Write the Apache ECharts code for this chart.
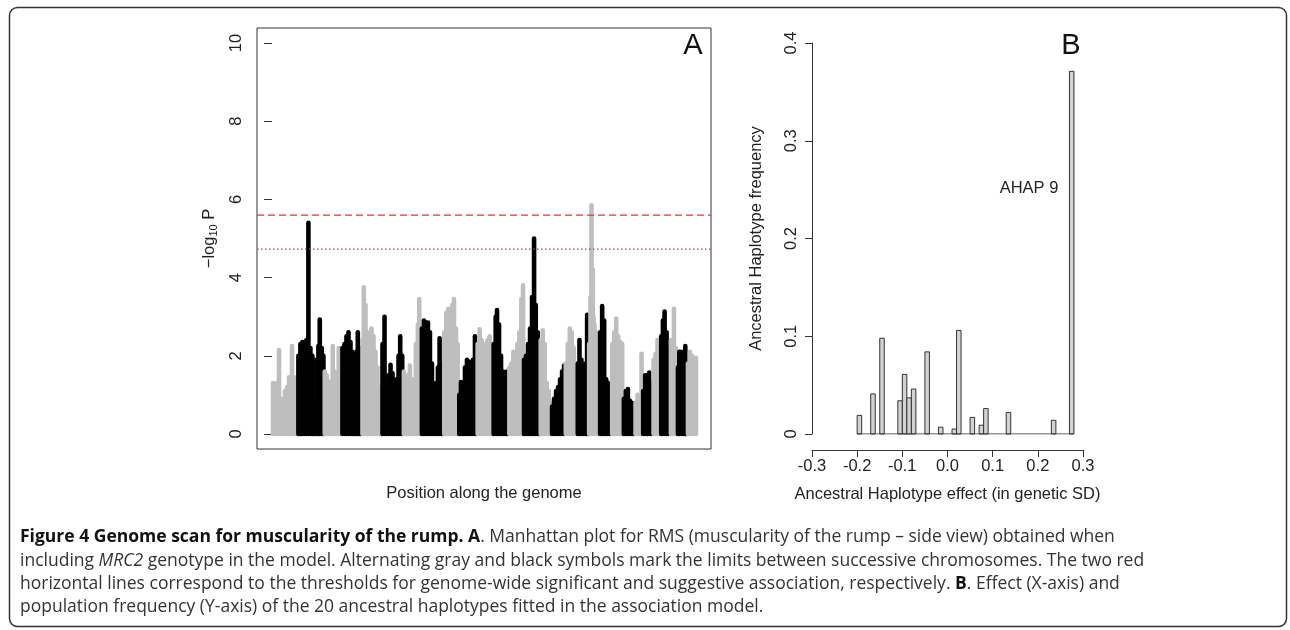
<!DOCTYPE html>
<html><head><meta charset="utf-8">
<script src="https://cdn.jsdelivr.net/npm/echarts@6/dist/echarts.min.js"></script>
<style>html,body{margin:0;padding:0;background:#fff}#c{width:1290px;height:630px}</style>
</head><body><div id="c"></div>
<script>
// ---------- Panel A: Manhattan plot (envelope of -log10 P per chromosome, position in Mb) ----------
const chrNames = ['1','2','3','4','5','6','7','8','9','10','11','12','13','14','15','16','17','18','19','20','21','22','23','24','25','26','27','28','29'];
const chrPos = [
  [6,18,30,42,54,66,78,90,102,110,120,132,144],
  [158,170,182,194,206,218,230,242,254,266,278,286,298,308],
  [316,328,340,352,364,376,388,400,412],
  [422,434,446,458,470,482,494,506,514,526,534],
  [542,550,560,572,584,596,608,620,632,644,654],
  [662,674,686,698,710,722,734,746,758,768,780],
  [790,802,814,826,838,850,862,874,882,890],
  [898,910,922,934,946,958,970,982,994,1004,1016,1024],
  [1032,1044,1056,1068,1080,1090,1102,1112],
  [1122,1132,1144,1156,1168,1180,1192,1204,1216,1224],
  [1232,1244,1256,1268,1280,1292,1304,1316],
  [1328,1340,1348,1360,1372,1384,1396,1408,1414],
  [1422,1434,1446,1458,1470,1482,1494,1504],
  [1510,1522,1534,1546,1558,1570,1580,1592,1604],
  [1610,1622,1634,1646,1658,1668],
  [1678,1690,1702,1714,1726,1738,1750],
  [1760,1772,1784,1796,1808,1820],
  [1832,1842,1854,1866,1878,1888,1894],
  [1900,1908,1914,1922,1926,1932,1944,1956],
  [1966,1978,1990,2002,2014,2026],
  [2038,2050,2062,2074,2086,2098],
  [2108,2120,2132,2144,2156,2168],
  [2178,2190,2202,2214],
  [2224,2236,2248,2260,2272],
  [2286,2298,2310,2322],
  [2332,2342,2352,2364,2376],
  [2390,2402,2408,2420],
  [2432,2440,2452,2464,2476,2484],
  [2492,2504,2516,2528,2540]
];
const chrLogP = [
  [1.3,1.25,1.3,2.15,0.9,0.75,1.1,1.2,1.45,1.35,2.25,1.45,1.4],
  [2.0,2.3,2.35,2.35,2.4,5.4,2.2,2.0,0.75,1.9,2.25,2.93,2.2,2.0],
  [1.6,1.5,1.35,1.25,2.25,1.6,1.45,2.2,2.0],
  [2.2,2.3,2.5,2.6,2.35,2.1,2.0,2.1,2.6,2.2,1.9],
  [2.4,3.75,3.3,2.6,2.5,2.7,2.5,2.1,1.7,1.2,0.9],
  [2.3,3.0,1.3,1.5,1.77,1.55,1.3,1.4,2.0,2.5,2.0],
  [1.6,1.2,1.5,1.75,1.0,1.4,2.3,2.8,3.45,2.7],
  [2.7,2.9,2.85,2.85,2.6,1.8,0.9,1.3,1.7,2.45,1.8,1.4],
  [2.6,3.1,3.2,3.05,3.3,3.45,2.7,2.3],
  [1.0,1.33,1.2,1.7,1.9,1.85,1.6,1.9,2.5,1.8],
  [2.3,2.68,2.4,2.05,2.3,2.4,2.5,2.2],
  [2.3,3.0,3.17,2.8,2.0,1.6,1.55,1.6,1.2],
  [1.7,1.8,2.1,2.0,2.3,2.6,3.45,3.8],
  [1.9,2.0,2.3,2.7,3.5,5.0,3.3,2.6,2.1],
  [2.4,2.65,2.3,1.3,1.1,0.8],
  [0.7,0.9,1.1,1.2,1.4,1.6,1.75],
  [1.8,2.3,2.7,2.6,2.2,1.8],
  [1.8,2.4,1.9,1.7,1.8,3.05,2.0],
  [2.3,3.5,5.85,4.2,3.0,2.8,2.6,2.5],
  [2.6,3.27,2.9,1.4,1.3,1.0],
  [2.3,2.6,2.95,2.5,2.35,2.3],
  [0.9,1.1,1.15,0.85,0.8,0.6],
  [0.8,1.0,0.9,2.05],
  [1.1,1.5,1.5,1.57,1.3],
  [1.9,2.05,2.4,2.0],
  [2.5,2.9,3.13,2.6,2.2],
  [2.4,2.2,3.2,2.2],
  [1.7,2.1,2.1,1.8,2.25,1.6],
  [1.8,2.1,2.0,1.9,1.95]
];
const genomeRange = [-90, 2630];
const thresholds = [5.6, 4.73]; // significant, suggestive
const yTicksA = [0, 10, 2];

// ---------- Panel B: ancestral haplotype effects ----------
const binStart = [-0.20,-0.17,-0.15,-0.11,-0.10,-0.09,-0.08,-0.05,-0.02,0.01,0.02,0.05,0.07,0.08,0.13,0.23,0.27];
const binFreq  = [0.019,0.041,0.098,0.034,0.061,0.037,0.046,0.084,0.007,0.005,0.106,0.017,0.009,0.026,0.022,0.014,0.371];
const binWidth = 0.01;
const binRange = [-0.20, 0.28];
const xTicksB = [-0.3, 0.3, 0.1];
const yTicksB = [0, 0.4, 0.1];

// ---------- build ----------
const manhattan = [];
chrPos.forEach((ps, ci) => ps.forEach((p, j) => manhattan.push([p, chrLogP[ci][j], ci])));
const bars = binStart.map((s, i) => [s, binFreq[i]]);

const FF = "'Liberation Sans', Arial, sans-serif";
const TXT = '#222';
const AX = '#333';
const FS = 16.5;
const CF = 'Open Sans';
const CS = 17.5;
const RED = '#ff2424';

const chart = echarts.init(document.getElementById('c'), null, {renderer: 'canvas'});
chart.setOption({
  animation: false,
  backgroundColor: '#fff',
  grid: [
    {left: 257, right: 579, top: 28, bottom: 181, show: true, borderColor: AX, borderWidth: 1, backgroundColor: 'transparent', outerBoundsMode: 'none'},
    {left: 257, right: 579, top: 43, bottom: 196, outerBoundsMode: 'none'},
    {left: 812, right: 207, top: 43, bottom: 196, outerBoundsMode: 'none'}
  ],
  xAxis: [
    {gridIndex: 0, type: 'value', min: 0, max: 1, axisLine: {show: false}, axisTick: {show: false}, axisLabel: {show: false}, splitLine: {show: false},
     name: 'Position along the genome', nameLocation: 'middle', nameGap: 36,
     nameTextStyle: {fontFamily: FF, fontSize: FS, color: TXT}},
    {gridIndex: 1, type: 'value', min: genomeRange[0], max: genomeRange[1], show: false, splitLine: {show: false}},
    {gridIndex: 2, type: 'value', min: xTicksB[0], max: xTicksB[1], interval: xTicksB[2], offset: 16,
     axisLine: {show: true, onZero: false, lineStyle: {color: AX, width: 1}},
     axisTick: {show: true, length: 7, lineStyle: {color: AX}},
     axisLabel: {formatter: v => v.toFixed(1), margin: 8, fontFamily: FF, fontSize: FS, color: TXT},
     splitLine: {show: false},
     name: 'Ancestral Haplotype effect (in genetic SD)', nameLocation: 'middle', nameGap: 36,
     nameTextStyle: {fontFamily: FF, fontSize: FS, color: TXT}}
  ],
  yAxis: [
    {gridIndex: 0, type: 'value', min: 0, max: 1, show: false, splitLine: {show: false}},
    {gridIndex: 1, type: 'value', min: yTicksA[0], max: yTicksA[1], interval: yTicksA[2],
     axisLine: {show: false}, axisTick: {show: true, length: 8, lineStyle: {color: AX}},
     axisLabel: {rotate: 90, margin: 12, fontFamily: FF, fontSize: FS, color: TXT},
     splitLine: {show: false},
     name: '{n|\u2212log}{s|10}{n| P}', nameLocation: 'middle', nameRotate: 90, nameGap: 38,
     nameTextStyle: {fontFamily: FF, fontSize: FS, color: TXT,
       rich: {n: {fontFamily: FF, fontSize: FS, color: TXT, lineHeight: 20},
              s: {fontFamily: FF, fontSize: 11, color: TXT, lineHeight: 11, verticalAlign: 'bottom'}}}},
    {gridIndex: 2, type: 'value', min: yTicksB[0], max: yTicksB[1], interval: yTicksB[2],
     axisLine: {show: true, onZero: false, lineStyle: {color: AX, width: 1}},
     axisTick: {show: true, length: 7, lineStyle: {color: AX}},
     axisLabel: {rotate: 90, margin: 12, fontFamily: FF, fontSize: FS, color: TXT},
     splitLine: {show: false},
     name: 'Ancestral Haplotype frequency', nameLocation: 'middle', nameRotate: 90, nameGap: 47,
     nameTextStyle: {fontFamily: FF, fontSize: FS, color: TXT}}
  ],
  series: [
    {type: 'custom', xAxisIndex: 1, yAxisIndex: 1, data: manhattan, encode: {x: 0, y: 1}, clip: false, silent: true, z: 2,
     renderItem: (params, api) => {
       const x = api.value(0), y = api.value(1), c = api.value(2);
       const p0 = api.coord([x, 0]), p1 = api.coord([x, y]);
       return {type: 'line', shape: {x1: p0[0], y1: p0[1], x2: p1[0], y2: p1[1]},
               style: {stroke: (c % 2) ? '#000000' : '#bebebe', lineWidth: 4.6, lineCap: 'round'}};
     }},
    {type: 'line', xAxisIndex: 1, yAxisIndex: 1, silent: true, symbol: 'none', z: 3,
     data: [[genomeRange[0], thresholds[0]], [genomeRange[1], thresholds[0]]],
     itemStyle: {color: RED}, lineStyle: {color: RED, width: 1.2, type: [7, 4]}},
    {type: 'line', xAxisIndex: 1, yAxisIndex: 1, silent: true, symbol: 'none', z: 3,
     data: [[genomeRange[0], thresholds[1]], [genomeRange[1], thresholds[1]]],
     itemStyle: {color: RED}, lineStyle: {color: RED, width: 1.3, type: [1.5, 2.5]}},
    {type: 'line', xAxisIndex: 2, yAxisIndex: 2, data: [[binRange[0], 0], [binRange[1], 0]], symbol: 'none', silent: true,
     lineStyle: {color: AX, width: 1}},
    {type: 'custom', xAxisIndex: 2, yAxisIndex: 2, data: bars, encode: {x: 0, y: 1}, silent: true,
     renderItem: (params, api) => {
       const a = api.coord([api.value(0), api.value(1)]);
       const b = api.coord([api.value(0) + binWidth, 0]);
       return {type: 'rect', shape: {x: a[0], y: a[1], width: b[0] - a[0], height: b[1] - a[1]},
               style: {fill: '#d3d3d3', stroke: AX, lineWidth: 1}};
     }}
  ],
  graphic: [
    {type: 'rect', silent: true, shape: {x: 9.5, y: 7.5, width: 1277, height: 619, r: 8},
     style: {fill: 'none', stroke: '#333', lineWidth: 1.5}},
    {type: 'text', silent: true, x: 693, y: 46, style: {text: 'A', fontFamily: FF, fontSize: 29, fill: '#111', align: 'center', verticalAlign: 'middle'}},
    {type: 'text', silent: true, x: 1071, y: 46, style: {text: 'B', fontFamily: FF, fontSize: 29, fill: '#111', align: 'center', verticalAlign: 'middle'}},
    {type: 'text', silent: true, x: 1029, y: 188, style: {text: 'AHAP 9', fontFamily: FF, fontSize: FS, fill: TXT, align: 'center', verticalAlign: 'middle'}},
    {type: 'text', silent: true, x: 20, y: 537, style: {
      text: '{b|Figure 4 Genome scan for muscularity of the rump. A}{n|. Manhattan plot for RMS (muscularity of the rump \u2013 side view) obtained when}',
      verticalAlign: 'middle', align: 'left',
      rich: {b: {fontFamily: CF, fontWeight: 'bold', fontSize: CS, fill: '#111'}, n: {fontFamily: CF, fontSize: CS, fill: '#333'}}}},
    {type: 'text', silent: true, x: 20, y: 561, style: {
      text: '{n|including }{i|MRC2}{n| genotype in the model. Alternating gray and black symbols mark the limits between successive chromosomes. The two red}',
      verticalAlign: 'middle', align: 'left',
      rich: {i: {fontFamily: CF, fontStyle: 'italic', fontSize: CS, fill: '#333'}, n: {fontFamily: CF, fontSize: CS, fill: '#333'}}}},
    {type: 'text', silent: true, x: 20, y: 584, style: {
      text: '{n|horizontal lines correspond to the thresholds for genome-wide significant and suggestive association, respectively. }{b|B}{n|. Effect (X-axis) and}',
      verticalAlign: 'middle', align: 'left',
      rich: {b: {fontFamily: CF, fontWeight: 'bold', fontSize: CS, fill: '#111'}, n: {fontFamily: CF, fontSize: CS, fill: '#333'}}}},
    {type: 'text', silent: true, x: 20, y: 607, style: {
      text: '{n|population frequency (Y-axis) of the 20 ancestral haplotypes fitted in the association model.}',
      verticalAlign: 'middle', align: 'left',
      rich: {n: {fontFamily: CF, fontSize: CS, fill: '#333'}}}}
  ]
});
</script></body></html>
